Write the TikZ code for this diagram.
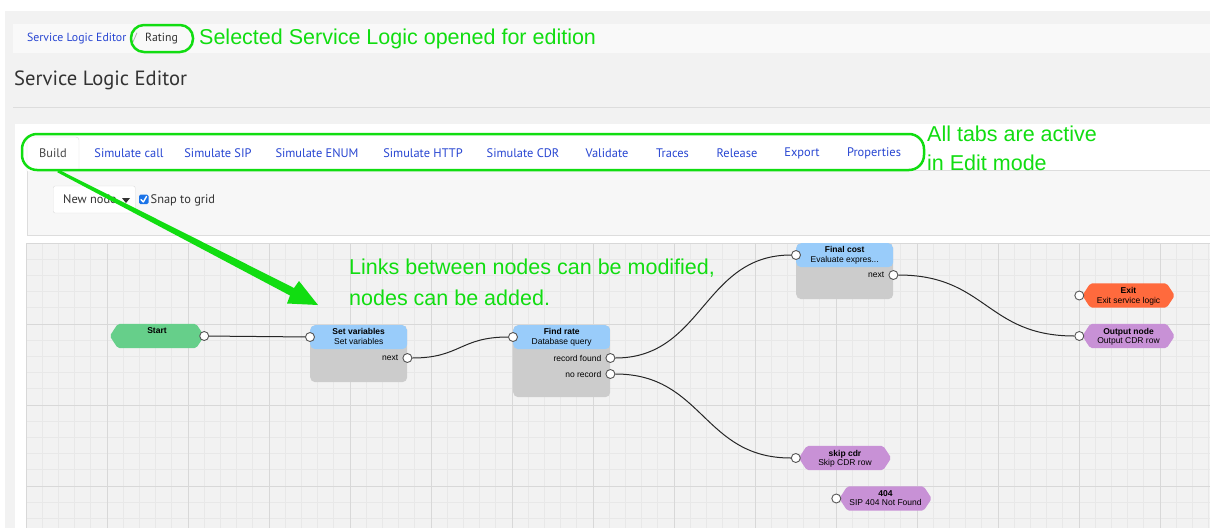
\documentclass[tikz,border=0pt]{standalone}
\usepackage{fontspec}
\setmainfont{Liberation Sans}
\newfontfamily\uifont{PT Sans}
\usetikzlibrary{calc}
\definecolor{annot}{RGB}{17,221,17}
\definecolor{pagebg}{RGB}{242,242,242}
\definecolor{crumbbg}{RGB}{249,249,249}
\definecolor{linkblue}{RGB}{40,70,210}
\definecolor{darktxt}{RGB}{51,51,51}
\definecolor{borderc}{RGB}{221,221,221}
\definecolor{toolbg}{RGB}{247,247,247}
\definecolor{canvasbg}{RGB}{242,242,242}
\definecolor{gridminor}{RGB}{232,232,232}
\definecolor{gridmajor}{RGB}{216,216,216}
\definecolor{headblue}{RGB}{153,204,250}
\definecolor{bodygray}{RGB}{204,204,204}
\definecolor{startgreen}{RGB}{102,207,138}
\definecolor{exitorange}{RGB}{255,106,61}
\definecolor{outpurple}{RGB}{200,145,214}
\definecolor{portedge}{RGB}{85,85,85}
\definecolor{checkblue}{RGB}{26,115,232}
\newcommand\hexfill[2]{%
  \fill[#2, rounded corners=2pt] (#1.north west) -- (#1.north east) -- ([xshift=8pt]#1.east)
    -- (#1.south east) -- (#1.south west) -- ([xshift=-8pt]#1.west) -- cycle;}
\begin{document}
\begin{tikzpicture}[x=1pt,y=-1pt,
  annottxt/.style={font=\fontsize{21.5}{24}\selectfont, text=annot, inner sep=0, anchor=west},
  annotbox/.style={draw=annot, line width=2.5pt},
  tablbl/.style={font=\uifont\fontsize{12.4}{14}\selectfont, text=linkblue, inner sep=0},
  uitxt/.style={font=\uifont\fontsize{12.4}{14}\selectfont, text=darktxt, inner sep=0, anchor=west},
  nodetxt/.style={font=\fontsize{8.5}{9.5}\selectfont, align=center, inner sep=0, anchor=north},
  portlbl/.style={font=\fontsize{8.5}{9.5}\selectfont, inner sep=0, anchor=east},
  flowbox/.style={rectangle, rounded corners=5pt, minimum width=97pt, fill=bodygray, inner sep=0,
    anchor=north west,
    path picture={\fill[headblue] (path picture bounding box.north west) rectangle
      ([yshift=-24pt]path picture bounding box.north east);}},
  hexcore/.style={rectangle, minimum width=76pt, minimum height=24pt, inner sep=0},
  port/.style={circle, minimum size=9pt, inner sep=0, fill=white, draw=portedge, line width=0.9pt},
  link/.style={draw=black!85, line width=1pt},
  minorline/.style={draw=gridminor, line width=0.8pt},
  majorline/.style={draw=gridmajor, line width=1pt}]
\useasboundingbox (0,0) rectangle (1210,528);
% page backgrounds
\fill[white] (0,0) rectangle (1210,528);
\fill[pagebg] (5,11) rectangle (1210,528);
\fill[crumbbg] (13,24) rectangle (1210,53);
% breadcrumb
\node[font=\uifont\fontsize{11.8}{13}\selectfont, text=linkblue, inner sep=0, anchor=west] (crumb) at (27,38.5) {Service Logic Editor};
\node[font=\uifont\fontsize{11.8}{13}\selectfont, text=black!35, inner sep=0] (slash) at (135,38.5) {/};
\node[font=\uifont\fontsize{11.8}{13}\selectfont, text=darktxt, inner sep=0, anchor=west] (rating) at (145,38.5) {Rating};
\draw[annotbox, rounded corners=13pt] (131,25) rectangle (193,52);
\node[annottxt] (selnote) at (199,39) {Selected Service Logic opened for edition};
% heading
\node[font=\uifont\fontsize{20.6}{24}\selectfont, text=darktxt, inner sep=0, anchor=west] (heading) at (14,80) {Service Logic Editor};
\draw[borderc] (13,107) -- (1210,107);
% white panel
\fill[white] (15,124) rectangle (1210,528);
% toolbar
\fill[toolbg] (27,171) rectangle (1210,235);
\draw[borderc] (27,171) -- (27,235) -- (1210,235);
\draw[borderc] (27,170.5) -- (1210,170.5);
\path[draw=borderc, fill=white, rounded corners=3pt] (27,171) -- (27,137) -- (79,137) -- (79,171);
% tabs
\node[tablbl, text=darktxt!90] (t1) at (53,153.5) {Build};
\node[tablbl] (t2) at (129,153.5) {Simulate call};
\node[tablbl] (t3) at (218,153.5) {Simulate SIP};
\node[tablbl] (t4) at (317,153.5) {Simulate ENUM};
\node[tablbl] (t5) at (423,153.5) {Simulate HTTP};
\node[tablbl] (t6) at (523,153.5) {Simulate CDR};
\node[tablbl] (t7) at (607,153.5) {Validate};
\node[tablbl] (t8) at (672.5,153.5) {Traces};
\node[tablbl] (t9) at (737,153.5) {Release};
\node[tablbl] (t10) at (802,153.5) {Export};
\node[tablbl] (t11) at (874,153.5) {Properties};
\draw[annotbox, rounded corners=15pt] (22,134) rectangle (924,170);
\node[annottxt] (tabnote1) at (927,134) {All tabs are active};
\node[annottxt] (tabnote2) at (927,163) {in Edit mode};
% new node button and checkbox
\node[draw=borderc, fill=white, rounded corners=2pt, minimum width=82pt, minimum height=27pt, inner sep=0, anchor=west] (newbtn) at (53,199.5) {};
\node[uitxt] (newtxt) at (63,199.5) {New node};
\fill[darktxt] (122,198) -- (130,198) -- (126,203) -- cycle;
\fill[checkblue, rounded corners=1.5pt] (139,194.5) rectangle (148.5,204);
\draw[white, line width=1.4pt, line cap=round, line join=round] (141,199.5) -- (143.3,202) -- (146.5,196.5);
\node[uitxt] (snap) at (150.5,200) {Snap to grid};
% canvas
\begin{scope}
\clip (26,243) rectangle (1210,528);
\fill[canvasbg] (26,243) rectangle (1210,528);
\foreach \i in {0,...,73} {\draw[minorline] ({26+16.2*\i},243) -- ({26+16.2*\i},528);}
\foreach \j in {0,...,18} {\draw[minorline] (26,{243+16.2*\j}) -- (1210,{243+16.2*\j});}
\foreach \i in {0,...,14} {\draw[majorline] ({26+81*\i},243) -- ({26+81*\i},528);}
\foreach \j in {0,...,3} {\draw[majorline] (26,{243+81*\j}) -- (1210,{243+81*\j});}
\end{scope}
% flow boxes
\node[flowbox, minimum height=57pt] (sv) at (310,325) {};
\node[nodetxt] (svt) at ([yshift=-3.5pt]sv.north) {\textbf{Set variables}\\Set variables};
\node[flowbox, minimum height=72pt] (fr) at (513,325) {};
\node[nodetxt] (frt) at ([yshift=-3.5pt]fr.north) {\textbf{Find rate}\\Database query};
\node[flowbox, minimum height=56pt] (fc) at (796,243) {};
\node[nodetxt] (fct) at ([yshift=-3.5pt]fc.north) {\textbf{Final cost}\\Evaluate expres...};
% hexagon nodes
\node[hexcore, minimum width=78pt] (start) at (157,336) {};
\hexfill{start}{startgreen}
\node[nodetxt] (startt) at ([yshift=-4pt]start.north) {\textbf{Start}};
\node[hexcore] (exit) at (1128.5,295.5) {};
\hexfill{exit}{exitorange}
\node[nodetxt] (exitt) at ([yshift=-4pt]exit.north) {\textbf{Exit}\\Exit service logic};
\node[hexcore] (outn) at (1128.5,336) {};
\hexfill{outn}{outpurple}
\node[nodetxt] (outt) at ([yshift=-4pt]outn.north) {\textbf{Output node}\\Output CDR row};
\node[hexcore] (skip) at (845,458) {};
\hexfill{skip}{outpurple}
\node[nodetxt] (skipt) at ([yshift=-4pt]skip.north) {\textbf{skip cdr}\\Skip CDR row};
\node[hexcore] (nf) at (885.5,498.5) {};
\hexfill{nf}{outpurple}
\node[nodetxt] (nft) at ([yshift=-4pt]nf.north) {\textbf{404}\\SIP 404 Not Found};
% ports
\node[port] (start-out) at ([xshift=8pt]start.east) {};
\node[port] (sv-in) at ([yshift=-12pt]sv.north west) {};
\node[port] (sv-next) at ([yshift=-33pt]sv.north east) {};
\node[port] (fr-in) at ([yshift=-12pt]fr.north west) {};
\node[port] (fr-found) at ([yshift=-33pt]fr.north east) {};
\node[port] (fr-none) at ([yshift=-49pt]fr.north east) {};
\node[port] (fc-in) at ([yshift=-12pt]fc.north west) {};
\node[port] (fc-next) at ([yshift=-32pt]fc.north east) {};
\node[port] (exit-in) at ([xshift=-11pt]exit.west) {};
\node[port] (out-in) at ([xshift=-11pt]outn.west) {};
\node[port] (skip-in) at ([xshift=-11pt]skip.west) {};
\node[port] (nf-in) at ([xshift=-11pt]nf.west) {};
% port labels
\node[portlbl] (svnl) at ([xshift=-4pt]sv-next.west) {next};
\node[portlbl] (frfl) at ([xshift=-4pt]fr-found.west) {record found};
\node[portlbl] (frnl) at ([xshift=-4pt]fr-none.west) {no record};
\node[portlbl] (fcnl) at ([xshift=-4pt]fc-next.west) {next};
% links
\draw[link] (start-out) -- (sv-in);
\draw[link] (sv-next) .. controls +(53,0) and +(-53,0) .. (fr-in);
\draw[link] (fr-found) .. controls +(93,0) and +(-93,0) .. (fc-in);
\draw[link] (fr-none) .. controls +(93,0) and +(-93,0) .. (skip-in);
\draw[link] (fc-next) .. controls +(93,0) and +(-93,0) .. (out-in);
% annotation text and arrow
\node[annottxt] (linknote1) at (349,268) {Links between nodes can be modified,};
\node[annottxt] (linknote2) at (349,298) {nodes can be added.};
\coordinate (arrS) at (58,171);
\coordinate (arrT) at (318,305);
\fill[annot] (57.3,172.3) -- (290,295.5) -- (287,303.5) -- (arrT) -- (299,281) -- (294,288) -- (58.7,169.7) -- cycle;
\end{tikzpicture}
\end{document}
